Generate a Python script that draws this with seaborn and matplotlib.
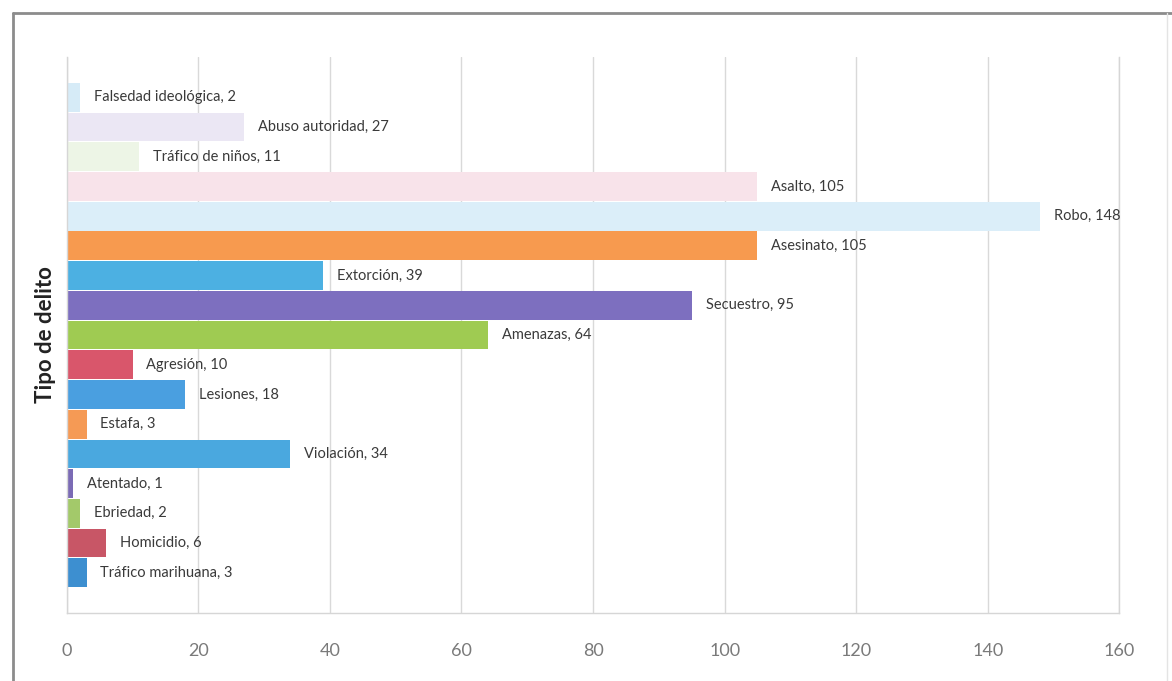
import matplotlib
matplotlib.use("Agg")
import matplotlib.pyplot as plt
from matplotlib.lines import Line2D
import seaborn as sns
import pandas as pd

categorias = [
    "Falsedad ideológica", "Abuso autoridad", "Tráfico de niños", "Asalto",
    "Robo", "Asesinato", "Extorción", "Secuestro", "Amenazas", "Agresión",
    "Lesiones", "Estafa", "Violación", "Atentado", "Ebriedad", "Homicidio",
    "Tráfico marihuana",
]
casos = [2, 27, 11, 105, 148, 105, 39, 95, 64, 10, 18, 3, 34, 1, 2, 6, 3]
colores = [
    "#d6ebf7", "#ebe7f4", "#edf5e6", "#f8e3ea", "#dbeef9", "#f79a4f",
    "#4cb0e2", "#7d6fbf", "#9fcb52", "#d9566b", "#4a9fe0", "#f59a55",
    "#4aa8df", "#7b6bb5", "#a3c96a", "#c85666", "#3d8fd0",
]
ticks_x = [0, 20, 40, 60, 80, 100, 120, 140, 160]

df = pd.DataFrame({"delito": categorias, "casos": casos})

sns.set_theme(style="white")
plt.rcParams["font.family"] = ["Lato", "DejaVu Sans"]

fig = plt.figure(figsize=(11.72, 6.81), dpi=100)
ax = fig.add_axes([0.057, 0.1, 0.898, 0.816])

sns.barplot(
    data=df, x="casos", y="delito", hue="delito", palette=colores,
    orient="h", width=0.97, saturation=1, linewidth=0, legend=False,
    ax=ax, zorder=2,
)

for i, (nombre, valor) in enumerate(zip(categorias, casos)):
    ax.annotate(
        f"{nombre}, {valor}", xy=(valor, i), xytext=(10, 0),
        textcoords="offset points", va="center", ha="left",
        fontsize=10.5, color="#3a3a3a",
    )

ax.set_xlim(0, 160)
ax.set_ylim(17.35, -1.35)
ax.set_xticks(ticks_x)
ax.set_xticklabels([str(t) for t in ticks_x], fontsize=13, color="#7a7a7a")
ax.tick_params(axis="x", pad=22, length=0)
ax.set_yticks([])
ax.set_xlabel("")
ax.set_ylabel("Tipo de delito", fontsize=16, fontweight="bold",
              color="#222222", labelpad=8)
ax.grid(axis="x", color="#d9d9d9", linewidth=1.0, zorder=0)
ax.set_axisbelow(True)
for lado in ["left", "right", "bottom"]:
    ax.spines[lado].set_color("#d6d6d6")
    ax.spines[lado].set_linewidth(1.0)
ax.spines["top"].set_visible(False)

# outer frame of the figure
marco = dict(color="#8c8c8c", linewidth=2.0, transform=fig.transFigure)
fig.add_artist(Line2D([0.011, 1.0], [0.981, 0.981], **marco))
fig.add_artist(Line2D([0.011, 0.011], [0.0, 0.981], **marco))
fig.add_artist(Line2D([0.996, 0.996], [0.0, 0.981], color="#e4e4e4",
                      linewidth=1.0, transform=fig.transFigure))

fig.savefig("out.png", dpi=100)
